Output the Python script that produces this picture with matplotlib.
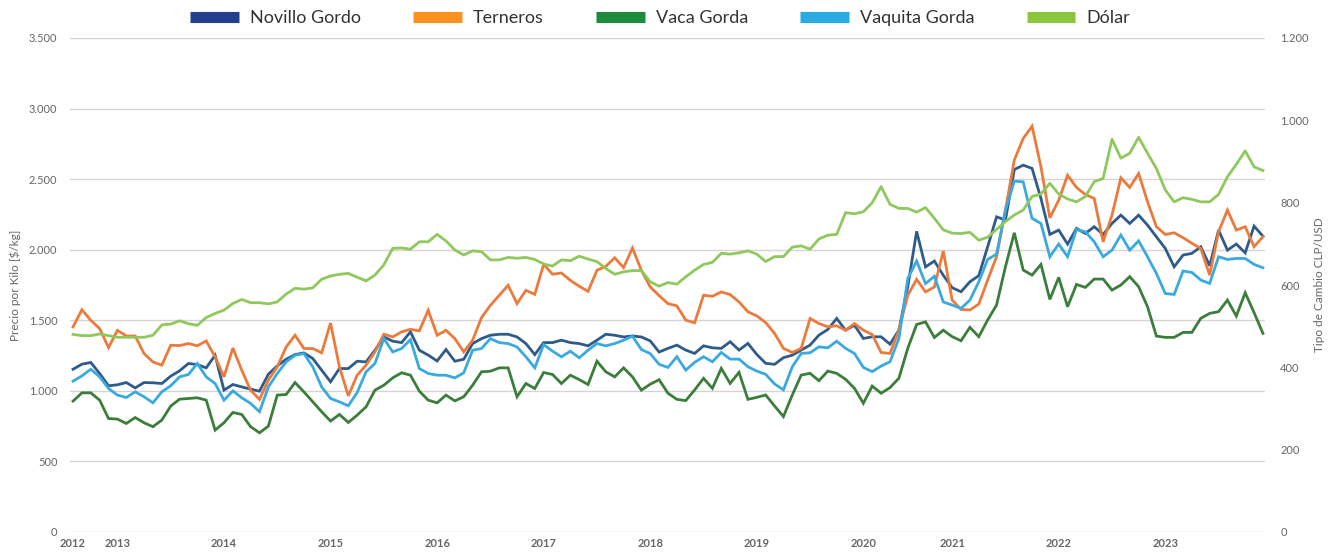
import matplotlib
matplotlib.use("Agg")
import matplotlib.pyplot as plt
from matplotlib.ticker import FuncFormatter, FixedLocator
from matplotlib.lines import Line2D

plt.rcParams['font.family'] = ['Lato', 'DejaVu Sans']

year_labels = ["2012", "2013", "2014", "2015", "2016", "2017", "2018",
               "2019", "2020", "2021", "2022", "2023"]
year_label_index = [0, 5, 17, 29, 41, 53, 65, 77, 89, 99, 111, 123]

novillo = [1153, 1189, 1201, 1123, 1036, 1043, 1059, 1021, 1059, 1057,
           1052, 1104, 1142, 1194, 1186, 1163, 1252, 1005, 1045, 1028,
           1012, 998, 1118, 1177, 1224, 1257, 1269, 1229, 1146, 1064,
           1158, 1158, 1210,
           1205, 1288, 1382, 1352, 1342, 1418, 1288, 1253, 1212, 1293,
           1210, 1224, 1335, 1370, 1394, 1401, 1401, 1382, 1335, 1257,
           1342, 1342, 1359, 1342, 1335, 1319, 1359, 1401, 1394, 1382,
           1389, 1382, 1354,
           1275,
           1301, 1324, 1289, 1265, 1319, 1305, 1301, 1348, 1289, 1336,
           1258, 1195, 1188, 1235, 1253, 1289, 1324, 1395, 1435, 1513,
           1430, 1465, 1371, 1383, 1383, 1331, 1430, 1736, 2130, 1878,
           1920, 1819,
           1731, 1702, 1773, 1816, 2021, 2233, 2210, 2568, 2599, 2576,
           2363, 2108, 2139, 2040, 2151, 2115, 2163, 2108, 2186, 2245,
           2186, 2245, 2174, 2092, 2009, 1879, 1962, 1974, 2021, 1886,
           2139, 1997, 2040, 1978, 2167, 2096]

terneros = [1453, 1575, 1500, 1441, 1307, 1429, 1389, 1389, 1264, 1205,
            1182, 1323, 1321, 1335, 1319, 1354, 1241, 1099, 1304, 1146,
            1005, 939, 1076, 1170, 1311, 1394, 1300, 1300, 1269, 1481,
            1170, 965, 1111,
            1182, 1276, 1401, 1382, 1418, 1436, 1425, 1571, 1394, 1429,
            1370, 1276, 1359, 1519, 1606, 1677, 1748, 1618, 1712, 1684,
            1896, 1826, 1835, 1783, 1741, 1705, 1854, 1882, 1943, 1873,
            2012, 1854, 1736,
            1675,
            1618, 1602, 1501, 1482, 1677, 1670, 1701, 1682, 1630, 1560,
            1531, 1484, 1407, 1301, 1272, 1301, 1513, 1477, 1454, 1461,
            1430, 1477, 1430, 1399, 1272, 1265, 1430, 1677, 1790, 1701,
            1736, 1991,
            1643, 1577, 1573, 1615, 1785, 1950, 2281, 2635, 2788, 2875,
            2587, 2226, 2351, 2528, 2441, 2391, 2363, 2056, 2245, 2509,
            2441, 2540, 2340, 2163, 2108, 2120, 2085, 2045, 2009, 1820,
            2127, 2281, 2139, 2163, 2021, 2092]

vaca_gorda = [927, 986, 986, 934, 804, 800, 769, 811, 774, 746,
              793, 892, 941, 946, 951, 934, 722, 774, 847, 833,
              746, 703, 750, 970, 974, 1059, 993, 922, 852, 786,
              833, 776, 828,
              887, 1005, 1040, 1092, 1128, 1111, 998, 934, 915, 970,
              929, 958, 1040, 1135, 1139, 1163, 1163, 958, 1052, 1017,
              1130, 1116, 1052, 1111, 1080, 1045, 1210, 1135, 1099, 1163,
              1099, 1005, 1047,
              1079,
              983, 940, 931, 1006, 1089, 1018, 1159, 1053, 1131, 940,
              954, 971, 893, 818, 971, 1112, 1124, 1072, 1140, 1124,
              1082, 1018, 912, 1034, 983, 1023, 1089, 1301, 1470, 1489,
              1378, 1430,
              1384, 1355, 1450, 1384, 1502, 1608, 1879, 2120, 1856, 1820,
              1896, 1648, 1804, 1596, 1754, 1733, 1792, 1792, 1714, 1750,
              1809, 1738, 1596, 1388, 1379, 1379, 1414, 1414, 1514, 1549,
              1561, 1643, 1530, 1695, 1554, 1407]

vaquita_gorda = [1069, 1106, 1153, 1099, 1017, 970, 953, 993, 958, 915,
                 993, 1036, 1099, 1116, 1194, 1099, 1052, 934, 1000, 951,
                 911, 852, 1028, 1123, 1205, 1252, 1264, 1170, 1028, 946,
                 922, 894, 988,
                 1135, 1194, 1370, 1276, 1300, 1363, 1158, 1123, 1111, 1111,
                 1092, 1128, 1288, 1300, 1370, 1342, 1335, 1311, 1241, 1163,
                 1328, 1281, 1241, 1281, 1234, 1288, 1335, 1319, 1335, 1359,
                 1387, 1293, 1264,
                 1188,
                 1166, 1242, 1147, 1202, 1242, 1206, 1272, 1225, 1225, 1171,
                 1140, 1117, 1049, 1007, 1171, 1265, 1270, 1312, 1305, 1352,
                 1301, 1265, 1166, 1136, 1176, 1206, 1371, 1795, 1920, 1760,
                 1812, 1630,
                 1608, 1584, 1643, 1773, 1931, 1969, 2281, 2486, 2481, 2222,
                 2186, 1950, 2040, 1950, 2144, 2127, 2056, 1950, 1997, 2104,
                 1997, 2063, 1950, 1832, 1690, 1683, 1849, 1839, 1785, 1761,
                 1950, 1931, 1938, 1938, 1896, 1872]

dolar = [480, 477, 477, 481, 477, 473, 473, 473, 473, 478,
         503, 505, 513, 506, 502, 521, 531, 539, 555, 565,
         557, 557, 554, 559, 578, 592, 590, 593, 614, 622,
         626, 628, 619,
         610, 624, 649, 689, 690, 687, 705, 705, 723, 707,
         685, 673, 683, 681, 661, 661, 667, 665, 667, 662,
         651, 646, 661, 659, 670, 663, 657, 640, 626, 632,
         635, 635, 608,
         597,
         606, 602, 620, 636, 650, 655, 677, 675, 678, 683,
         675, 657, 669, 669, 692, 695, 687, 712, 721, 723,
         776, 773, 778, 800, 839, 796, 786, 786, 777, 788,
         762, 734,
         726, 725, 728, 709, 716, 735, 754, 770, 782, 815,
         821, 847, 821, 809, 802, 815, 851, 859, 954, 908,
         920, 959, 920, 883, 831, 802, 812, 808, 802, 802,
         820, 863, 893, 926, 887, 878]

series_names = ["Novillo Gordo", "Terneros", "Vaca Gorda", "Vaquita Gorda", "Dólar"]
line_colors = ["#2f5b8a", "#ec7a3c", "#3b7d3a", "#3aa9df", "#8fc85c"]
legend_colors = ["#253f8f", "#f7931e", "#1f8a3c", "#29abe2", "#8cc63f"]

fig = plt.figure(figsize=(13.37, 5.54), dpi=100)
ax = fig.add_axes([70 / 1337, 1 - 532 / 554, 1195 / 1337, 494 / 554])
ax2 = ax.twinx()

x = list(range(len(novillo)))
left_series = [novillo, terneros, vaca_gorda, vaquita_gorda]
for vals, c in zip(left_series, line_colors[:4]):
    ax.plot(x, vals, color=c, lw=2.0, solid_joinstyle='miter', zorder=3)
ax2.plot(x, dolar, color=line_colors[4], lw=2.0, zorder=2)

ax.set_xlim(-0.34, 134.23)
ax.set_ylim(0, 3500)
ax2.set_ylim(0, 1200)
ax.set_yticks(range(0, 3501, 500))
ax2.set_yticks(range(0, 1201, 200))

fmt = FuncFormatter(lambda v, p: f"{int(round(v)):,}".replace(",", "."))
ax.yaxis.set_major_formatter(fmt)
ax2.yaxis.set_major_formatter(fmt)

ax.xaxis.set_major_locator(FixedLocator(year_label_index))
ax.set_xticklabels(year_labels)

ax.grid(axis='y', color='#d9d2d2', lw=1.0)
ax.set_axisbelow(True)
for a in (ax, ax2):
    for s in a.spines.values():
        s.set_visible(False)
    a.tick_params(length=0, colors='#595959', labelsize=8)
ax.tick_params(axis='y', pad=9)
ax2.tick_params(axis='y', pad=11)
ax.tick_params(axis='x', pad=4)
for lbl in ax.get_xticklabels():
    lbl.set_fontweight('bold')
    lbl.set_color('#666666')
for lbl in ax.get_yticklabels() + ax2.get_yticklabels():
    lbl.set_color('#666666')

ax.set_ylabel("Precio por Kilo [$/kg]", fontsize=8.5, color='#666666', labelpad=6)
ax2.set_ylabel("Tipo de Cambio CLP/USD", fontsize=8.5, color='#666666', labelpad=4)

handles = [Line2D([0], [0], color=c, lw=8, solid_capstyle='butt') for c in legend_colors]
fig.legend(handles, series_names, loc='center', bbox_to_anchor=(0.4937, 1 - 18 / 554),
           ncol=5, frameon=False, fontsize=13, handlelength=2.7,
           handletextpad=0.6, columnspacing=2.9, labelcolor='#333333')

fig.savefig("out.png", dpi=100)
